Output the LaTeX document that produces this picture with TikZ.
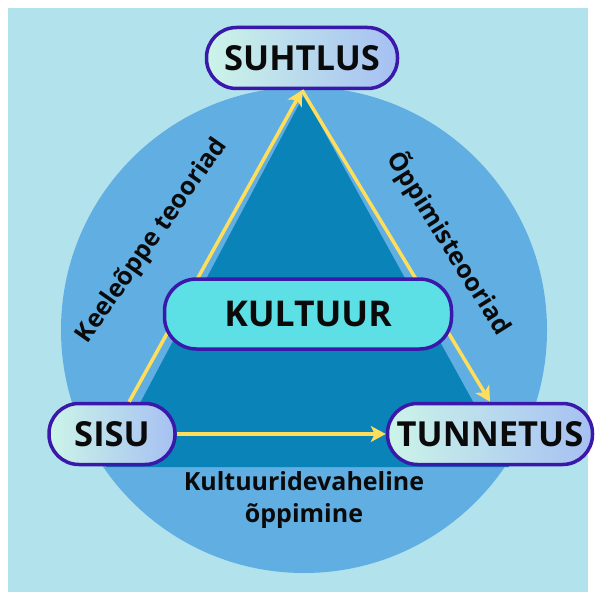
\documentclass[tikz,border=0pt]{standalone}
\usepackage{fontspec}
\setmainfont{Open Sans}
\usepackage{tikz}
\usetikzlibrary{arrows.meta,positioning}

\definecolor{bgcyan}{RGB}{178,226,236}
\definecolor{ringblue}{RGB}{96,174,226}
\definecolor{deepblue}{RGB}{10,131,184}
\definecolor{rim}{RGB}{58,24,170}
\definecolor{mint}{RGB}{204,244,232}
\definecolor{lavender}{RGB}{166,192,242}
\definecolor{turq}{RGB}{92,224,230}
\definecolor{gold}{RGB}{255,222,92}
\definecolor{ink}{RGB}{10,10,10}

\begin{document}
\begin{tikzpicture}[
        x=1pt, y=-1pt,
        pill/.style={draw=rim, line width=3.5pt, rounded corners=30pt,
            minimum height=61pt, inner sep=0pt, text=ink,
            left color=mint, right color=lavender,
            font=\fontsize{34.5}{38}\selectfont\bfseries},
        core/.style={pill, fill=turq, left color=turq, right color=turq,
            minimum height=70pt, rounded corners=32pt,
            font=\fontsize{35.5}{38}\selectfont\bfseries},
        side/.style={text=ink, font=\fontsize{25}{32}\selectfont\bfseries},
        link/.style={draw=gold, line width=3.5pt,
            -{Stealth[length=15pt,width=16pt,inset=4pt]}},
    ]
    \useasboundingbox (0,0) rectangle (595,599);
    % background
    \fill[bgcyan] (8,8) rectangle (588,592);
    \fill[ringblue] (304,330) circle (243);
    \fill[deepblue] (304,95) -- (509,467) -- (106,467) -- cycle;
    % corners of the triangle
    \node[pill, minimum width=191pt] at (302,58) (suhtlus) {SUHTLUS};
    \node[pill, minimum width=126pt] at (112,434) (sisu) {SISU};
    \node[pill, minimum width=205pt] at (490,434) (tunnetus) {TUNNETUS};
    % arrows
    \draw[link] (sisu.62) -- (suhtlus.south);
    \draw[link] (suhtlus.south) -- (tunnetus.north);
    \draw[link] (sisu.east) -- (tunnetus.west);
    \node[core, minimum width=287pt] at (308,314) (kultuur) {KULTUUR};
    % side labels
    \node[side, rotate=55] at (152,241) (keel) {Keeleõppe teooriad};
    \node[side, rotate=-58] at (449,243) (oppim) {Õppimisteooriad};
    \node[side, align=center] at (304,500) (vahel) {Kultuuridevaheline\\õppimine};
\end{tikzpicture}
\end{document}
